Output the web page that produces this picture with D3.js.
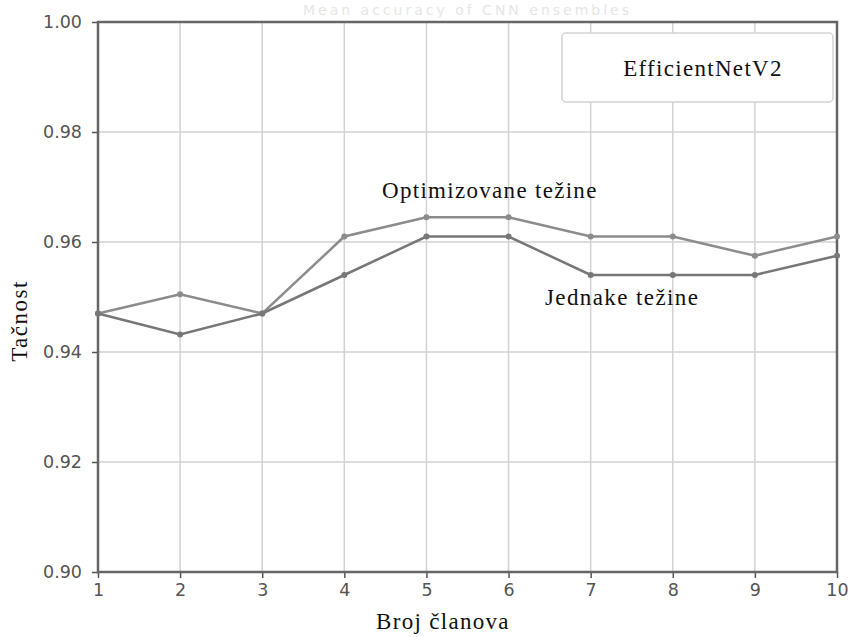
<!DOCTYPE html>
<html>
<head>
<meta charset="utf-8">
<script src="https://cdn.jsdelivr.net/npm/d3@7"></script>
<style>
  body { margin: 0; background: #fff; }
  svg { display: block; }
</style>
</head>
<body>
<div id="chart"></div>
<script>
// data
const members = [1, 2, 3, 4, 5, 6, 7, 8, 9, 10];
const optimized = [0.947, 0.9505, 0.947, 0.961, 0.9645, 0.9645, 0.961, 0.961, 0.9575, 0.961];
const equal = [0.947, 0.9432, 0.947, 0.954, 0.961, 0.961, 0.954, 0.954, 0.954, 0.9575];
const yTicks = [0.90, 0.92, 0.94, 0.96, 0.98, 1.00];

const width = 848;
const height = 637;
const margin = { top: 22, right: 11, bottom: 65, left: 98 };

const svg = d3.select("#chart").append("svg")
  .attr("width", width)
  .attr("height", height);

const x = d3.scaleLinear().domain([1, 10]).range([margin.left, width - margin.right]);
const y = d3.scaleLinear().domain([0.90, 1.00]).range([height - margin.bottom, margin.top]);

// faded title above the frame
svg.append("text")
  .attr("x", (x.range()[0] + x.range()[1]) / 2)
  .attr("y", 15)
  .attr("text-anchor", "middle")
  .attr("font-family", "DejaVu Sans")
  .attr("font-size", 14)
  .attr("letter-spacing", 3)
  .attr("fill", "#e6e6e6")
  .text("Mean accuracy of CNN ensembles");

// grid
const grid = svg.append("g").attr("stroke", "#d2d2d2").attr("stroke-width", 1.5);
grid.selectAll(".gx").data(members).join("line")
  .attr("x1", d => x(d)).attr("x2", d => x(d))
  .attr("y1", y(0.90)).attr("y2", y(1.00));
grid.selectAll(".gy").data(yTicks).join("line")
  .attr("x1", x(1)).attr("x2", x(10))
  .attr("y1", d => y(d)).attr("y2", d => y(d));

// axes
const xAxis = svg.append("g")
  .attr("transform", `translate(0,${y(0.90)})`)
  .call(d3.axisBottom(x).tickValues(members).tickSize(6).tickPadding(6).tickFormat(d3.format("d")));
const yAxis = svg.append("g")
  .attr("transform", `translate(${x(1)},0)`)
  .call(d3.axisLeft(y).tickValues(yTicks).tickSize(6).tickPadding(10).tickFormat(d3.format(".2f")));

[xAxis, yAxis].forEach(a => {
  a.select(".domain").remove();
  a.selectAll("line").attr("stroke", "#555").attr("stroke-width", 1.5);
  a.selectAll("text")
    .attr("font-family", "DejaVu Sans")
    .attr("font-size", 17.5)
    .attr("fill", "#555");
});

// frame
svg.append("rect")
  .attr("x", x(1)).attr("y", y(1.00))
  .attr("width", x(10) - x(1)).attr("height", y(0.90) - y(1.00))
  .attr("fill", "none")
  .attr("stroke", "#666")
  .attr("stroke-width", 2.5);

// series
const line = d3.line().x((d, i) => x(members[i])).y(d => y(d));
const series = [
  { values: optimized, color: "#8c8c8c" },
  { values: equal, color: "#777" }
];
series.forEach(s => {
  svg.append("path")
    .datum(s.values)
    .attr("fill", "none")
    .attr("stroke", s.color)
    .attr("stroke-width", 2.5)
    .attr("d", line);
  svg.append("g").selectAll("circle")
    .data(s.values)
    .join("circle")
    .attr("cx", (d, i) => x(members[i]))
    .attr("cy", d => y(d))
    .attr("r", 3)
    .attr("fill", s.color);
});

// text helper for the serif labels
const serif = "Liberation Serif";
function label(xp, yp, txt, spacing, anchor) {
  return svg.append("text")
    .attr("x", xp).attr("y", yp)
    .attr("text-anchor", anchor || "start")
    .attr("font-family", serif)
    .attr("font-size", 23)
    .attr("letter-spacing", spacing)
    .attr("fill", "#111")
    .text(txt);
}

label(382, 198, "Optimizovane težine", 1.3);
label(545, 305, "Jednake težine", 1.4);

// legend box
svg.append("rect")
  .attr("x", 562).attr("y", 33)
  .attr("width", 271).attr("height", 69)
  .attr("rx", 4)
  .attr("fill", "#fff")
  .attr("stroke", "#d4d4d4")
  .attr("stroke-width", 1.5);
label(703, 76, "EfficientNetV2", 1.3, "middle");

// axis labels
label(443, 629, "Broj članova", 1.3, "middle");
label(0, 0, "Tačnost", 1.5, "middle")
  .attr("transform", `translate(27,321) rotate(-90)`);
</script>
</body>
</html>
